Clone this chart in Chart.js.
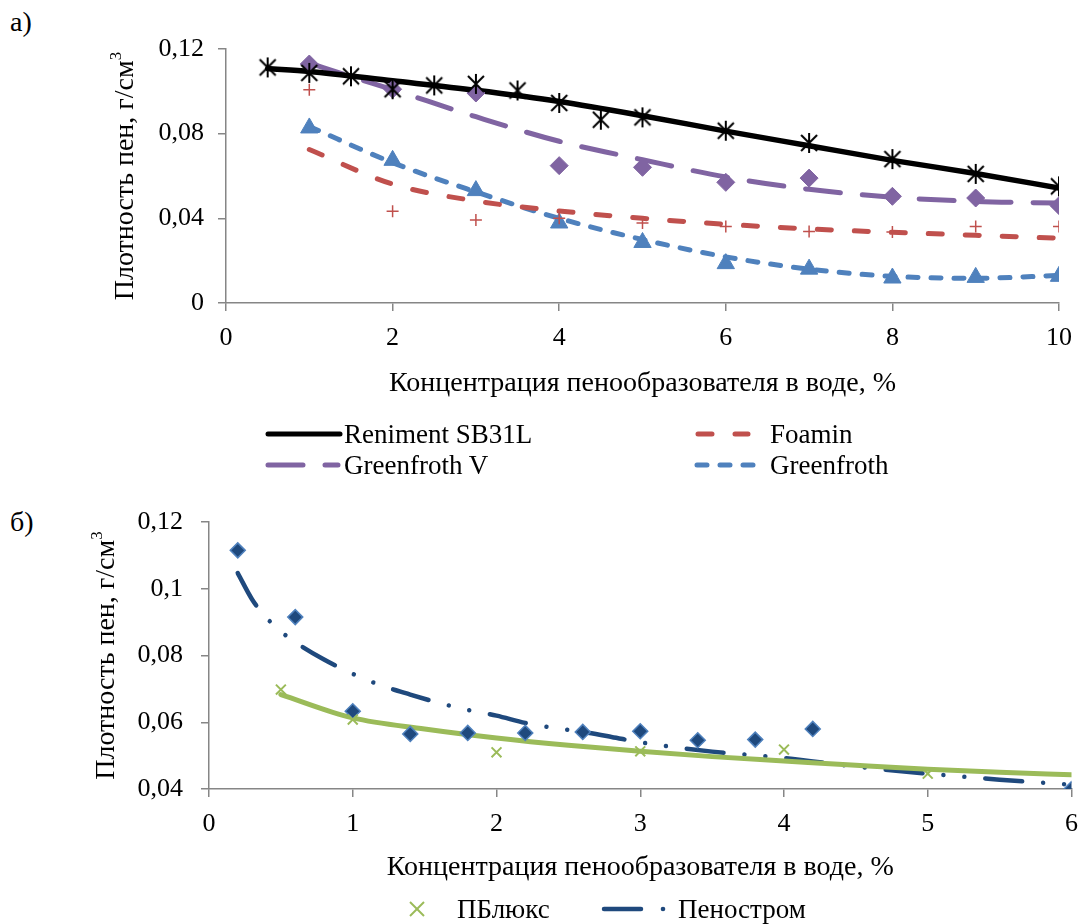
<!DOCTYPE html>
<html>
<head>
<meta charset="utf-8">
<script src="https://cdn.jsdelivr.net/npm/chart.js@4.4.1/dist/chart.umd.min.js"></script>
<style>
  body { margin: 0; background: #fff; }
  #page { position: relative; width: 1090px; height: 924px; overflow: hidden; font-family: "Liberation Serif", "Times New Roman", serif; color: #000; }
  canvas { position: absolute; left: 0; }
  .lbl { position: absolute; font-size: 28px; line-height: 1; white-space: nowrap; }
  .txt { position: absolute; font-size: 27px; line-height: 1; white-space: nowrap; transform: translateY(-50%); }
  svg { position: absolute; overflow: visible; }
</style>
</head>
<body>
<div id="page">
  <div class="lbl" style="left:10px; top:8px;">а)</div>
  <canvas id="chartA" width="1090" height="400" style="top:0;"></canvas>

  <!-- legend a) -->
  <svg style="left:0; top:0;" width="1090" height="500">
    <line x1="268" y1="434" x2="340" y2="434" stroke="#000" stroke-width="5" stroke-linecap="round"/>
    <line x1="698" y1="434" x2="748" y2="434" stroke="#C0504D" stroke-width="5" stroke-linecap="round" stroke-dasharray="14 23"/>
    <line x1="268" y1="465" x2="338" y2="465" stroke="#8064A2" stroke-width="5" stroke-linecap="round" stroke-dasharray="35 22"/>
    <line x1="697" y1="465" x2="760" y2="465" stroke="#4F81BD" stroke-width="5" stroke-linecap="round" stroke-dasharray="10 13"/>
  </svg>
  <div class="txt" style="left:344px; top:434px;">Reniment SB31L</div>
  <div class="txt" style="left:770px; top:434px;">Foamin</div>
  <div class="txt" style="left:344px; top:465px;">Greenfroth V</div>
  <div class="txt" style="left:770px; top:465px;">Greenfroth</div>

  <div class="lbl" style="left:10px; top:508px;">б)</div>
  <canvas id="chartB" width="1090" height="414" style="top:470px;"></canvas>

  <!-- legend б) -->
  <svg style="left:0; top:0;" width="1090" height="924">
    <line x1="410" y1="902" x2="424" y2="916" stroke="#9BBB59" stroke-width="2"/>
    <line x1="424" y1="902" x2="410" y2="916" stroke="#9BBB59" stroke-width="2"/>
    <line x1="604" y1="909" x2="641" y2="909" stroke="#1F497D" stroke-width="4.5" stroke-linecap="round"/>
    <circle cx="663" cy="909" r="2.3" fill="#1F497D"/>
  </svg>
  <div class="txt" style="left:457px; top:909px;">ПБлюкс</div>
  <div class="txt" style="left:678px; top:909px;">Пеностром</div>
</div>

<script>
/* а) foam density vs foaming agent concentration */
const conc = [1, 2, 3, 4, 5, 6, 7, 8, 9, 10];
const reniConc = [0.5, 1, 1.5, 2, 2.5, 3, 3.5, 4, 4.5, 5, 6, 7, 8, 9, 10];
const reniment = [0.1113, 0.1087, 0.1071, 0.1010, 0.1028, 0.1035, 0.1004, 0.0945, 0.0866, 0.0877, 0.0814, 0.0756, 0.0680, 0.0610, 0.0551];
const foamin = [0.1008, 0.0433, 0.0392, 0.0400, 0.0378, 0.0362, 0.0338, 0.0335, 0.0362, 0.0362];
const greenfrothV = [0.1129, 0.1010, 0.0992, 0.0649, 0.0641, 0.0570, 0.0590, 0.0504, 0.0496, 0.0460];
const greenfroth = [0.0827, 0.0674, 0.0531, 0.0378, 0.0286, 0.0186, 0.0160, 0.0118, 0.0121, 0.0126];

/* trend lines */
const reniTrendConc = [0.5, 1, 2, 3, 4, 5, 6, 7, 8, 9, 10];
const reniTrend = [0.1108, 0.1094, 0.1050, 0.1005, 0.0952, 0.0885, 0.0812, 0.0743, 0.0674, 0.0612, 0.0543];
const foaminTrend = [0.0725, 0.0562, 0.0482, 0.0435, 0.0400, 0.0372, 0.0350, 0.0334, 0.0320, 0.0306];
const gfvTrendConc = [1, 1.5, 2, 3, 4, 5, 6, 7, 8, 9, 10];
const gfvTrend = [0.1134, 0.1070, 0.1008, 0.0880, 0.0764, 0.0677, 0.0595, 0.0537, 0.0500, 0.0480, 0.0472];
const gfTrend = [0.0834, 0.0663, 0.0525, 0.0400, 0.0300, 0.0218, 0.0160, 0.0126, 0.0117, 0.0130];

const xTicksA = [0, 2, 4, 6, 8, 10];
const yTicksA = [0, 0.04, 0.08, 0.12];

/* б) */
const penoConc = [0.2, 0.6, 1, 1.4, 1.8, 2.2, 2.6, 3, 3.4, 3.8, 4.2, 6];
const penostrom = [0.1115, 0.0915, 0.0633, 0.0565, 0.0568, 0.0568, 0.0571, 0.0573, 0.0546, 0.0548, 0.0580, 0.0400];
const pblConc = [0.5, 1, 2, 3, 4, 5];
const pblux = [0.0698, 0.0608, 0.0510, 0.0513, 0.0518, 0.0446];

const penoTrendConc = [0.2, 0.3, 0.4, 0.5, 0.6, 0.8, 1, 1.2, 1.4, 1.6, 1.8, 2, 2.2, 2.4, 2.6, 2.8, 3, 3.5, 4, 4.5, 5, 5.5, 6];
const penoTrend = [0.1047, 0.0968, 0.0913, 0.0872, 0.0840, 0.0788, 0.0745, 0.0710, 0.0683, 0.0658, 0.0637, 0.0620, 0.0598, 0.0583, 0.0571, 0.0556, 0.0540, 0.0512, 0.0493, 0.0467, 0.0446, 0.0428, 0.0413];
const pblTrendConc = [0.5, 1, 1.5, 2, 2.5, 3, 3.5, 4, 4.5, 5, 5.5, 6];
const pblTrend = [0.0683, 0.0613, 0.0580, 0.0553, 0.0531, 0.0513, 0.0497, 0.0484, 0.0471, 0.0459, 0.0450, 0.0443];

const xTicksB = [0, 1, 2, 3, 4, 5, 6];
const yTicksB = [0.04, 0.06, 0.08, 0.1, 0.12];

const FONT = '"Liberation Serif", "Times New Roman", serif';
const pts = (xs, ys) => xs.map((x, i) => ({ x, y: ys[i] }));
const comma = v => String(parseFloat(Number(v).toFixed(2))).replace('.', ',');

// excel-like star marker: X with a vertical stroke
function starMarker() {
    const c = document.createElement('canvas');
    c.width = 22; c.height = 22;
    const g = c.getContext('2d');
    g.strokeStyle = '#000';
    g.lineWidth = 2;
    g.beginPath();
    g.moveTo(3, 3); g.lineTo(19, 19);
    g.moveTo(19, 3); g.lineTo(3, 19);
    g.moveTo(11, 1); g.lineTo(11, 21);
    g.stroke();
    return c;
}

// rotated y title with superscript 3
function yTitlePlugin(cx, shift) {
    return {
        id: 'yTitle',
        afterDraw(chart) {
            const { ctx, chartArea } = chart;
            const cy = (chartArea.top + chartArea.bottom) / 2 + shift;
            const main = 'Плотность пен, г/см';
            ctx.save();
            ctx.translate(cx, cy);
            ctx.rotate(-Math.PI / 2);
            ctx.fillStyle = '#000';
            ctx.textBaseline = 'middle';
            ctx.textAlign = 'left';
            ctx.font = '28px ' + FONT;
            const w1 = ctx.measureText(main).width;
            ctx.font = '17px ' + FONT;
            const w2 = ctx.measureText('3').width;
            const x0 = -(w1 + w2) / 2;
            ctx.font = '28px ' + FONT;
            ctx.fillText(main, x0, 0);
            ctx.font = '17px ' + FONT;
            ctx.fillText('3', x0 + w1, -9);
            ctx.restore();
        }
    };
}

function axes(xMin, xMax, xTicks, yMin, yMax, yTicks, yWidth, xHeight, yPad) {
    const grid = { display: true, drawOnChartArea: false, drawTicks: true, tickLength: 8, color: '#868686', lineWidth: 1.5 };
    const border = { display: true, color: '#868686', width: 1.5 };
    return {
        x: {
            type: 'linear', min: xMin, max: xMax,
            afterBuildTicks: s => { s.ticks = xTicks.map(v => ({ value: v })); },
            afterFit: s => { s.height = xHeight; },
            grid, border,
            ticks: { color: '#000', font: { family: FONT, size: 26 }, padding: 12, maxRotation: 0, callback: v => comma(v) },
            title: { display: true, text: 'Концентрация пенообразователя в воде, %', color: '#000',
                     font: { family: FONT, size: 28 }, padding: { top: 0, bottom: 0 } }
        },
        y: {
            type: 'linear', min: yMin, max: yMax,
            afterBuildTicks: s => { s.ticks = yTicks.map(v => ({ value: v })); },
            afterFit: s => { s.width = yWidth; },
            grid, border,
            ticks: { color: '#000', font: { family: FONT, size: 26 }, padding: yPad, callback: v => comma(v) }
        }
    };
}

const trend = (data, color, width, dash) => ({
    data, showLine: true, pointRadius: 0, borderColor: color, borderWidth: width,
    borderDash: dash, borderCapStyle: 'round', borderJoinStyle: 'round',
    cubicInterpolationMode: 'monotone', fill: false
});

new Chart(document.getElementById('chartA'), {
    type: 'scatter',
    data: {
        datasets: [
            { data: pts(reniConc, reniment), pointStyle: starMarker(), pointRadius: 11 },
            { data: pts(conc, greenfrothV), pointStyle: 'rectRot', pointRadius: 9,
              pointBackgroundColor: '#8064A2', pointBorderColor: '#8064A2', pointBorderWidth: 1 },
            { data: pts(conc, foamin), pointStyle: 'cross', pointRadius: 6,
              pointBorderColor: '#C0504D', pointBorderWidth: 1.5 },
            { data: pts(conc, greenfroth), pointStyle: 'triangle', pointRadius: 10,
              pointBackgroundColor: '#4F81BD', pointBorderColor: '#4F81BD', pointBorderWidth: 1 },
            trend(pts(reniTrendConc, reniTrend), '#000000', 5.5, []),
            trend(pts(gfvTrendConc, gfvTrend), '#8064A2', 5, [35, 22]),
            trend(pts(conc, foaminTrend), '#C0504D', 5, [14, 23]),
            trend(pts(conc, gfTrend), '#4F81BD', 5, [10, 13])
        ]
    },
    options: {
        responsive: false,
        animation: false,
        events: [],
        layout: { padding: { top: 49, right: 31, bottom: 0, left: 0 } },
        plugins: { legend: { display: false }, tooltip: { enabled: false } },
        scales: axes(0, 10, xTicksA, 0, 0.12, yTicksA, 226, 97, 14)
    },
    plugins: [yTitlePlugin(126, 0)]
});

new Chart(document.getElementById('chartB'), {
    type: 'scatter',
    data: {
        datasets: [
            { data: pts(pblConc, pblux), pointStyle: 'crossRot', pointRadius: 7,
              pointBorderColor: '#9BBB59', pointBorderWidth: 2 },
            { data: pts(penoConc, penostrom), pointStyle: 'rectRot', pointRadius: 7.5,
              pointBackgroundColor: '#1F497D', pointBorderColor: '#4F81BD', pointBorderWidth: 1.5 },
            trend(pts(pblTrendConc, pblTrend), '#9BBB59', 5, []),
            trend(pts(penoTrendConc, penoTrend), '#1F497D', 4.5, [37, 21, 0.01, 21, 0.01, 21])
        ]
    },
    options: {
        responsive: false,
        animation: false,
        events: [],
        layout: { padding: { top: 52, right: 9, bottom: 0, left: 0 } },
        plugins: { legend: { display: false }, tooltip: { enabled: false } },
        scales: axes(0, 6, xTicksB, 0.04, 0.12, yTicksB, 209, 95, 18)
    },
    plugins: [yTitlePlugin(107, 0)]
});
</script>
</body>
</html>
